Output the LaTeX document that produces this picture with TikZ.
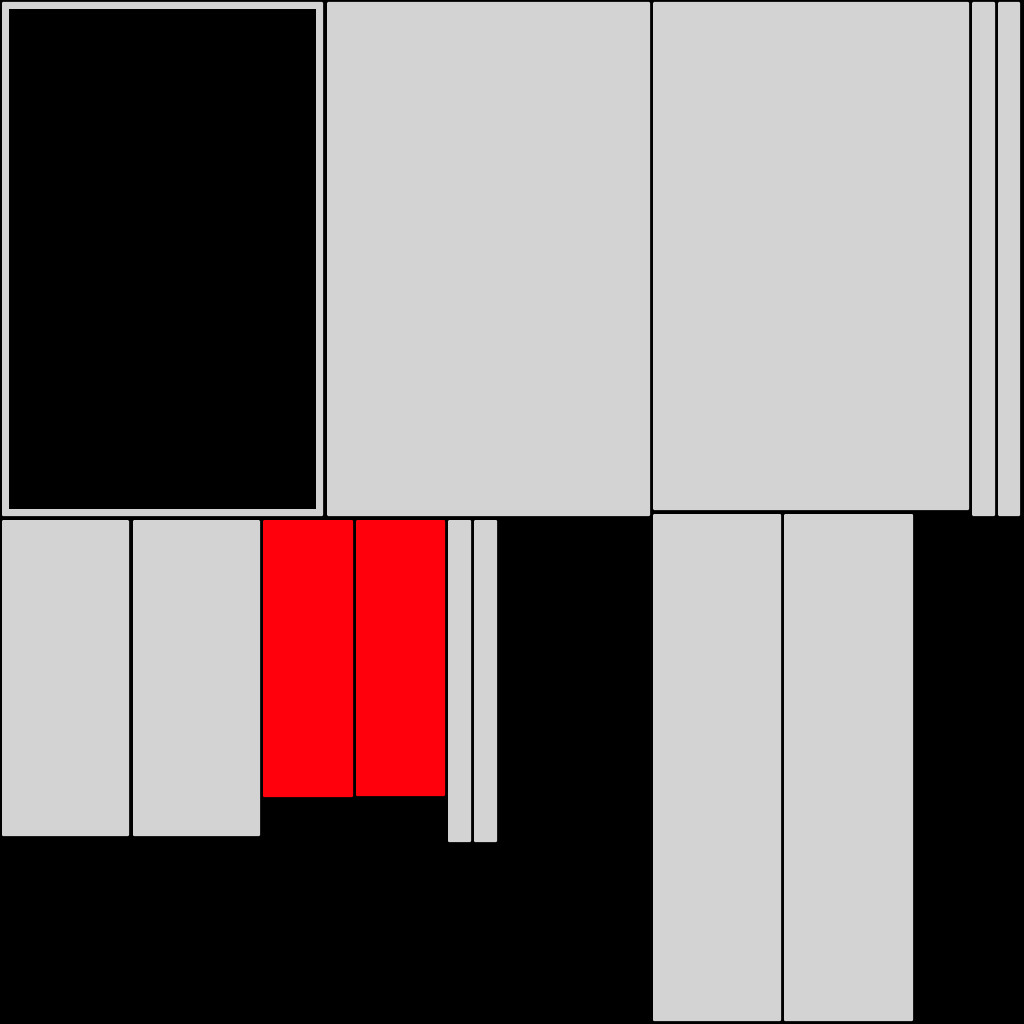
\documentclass[tikz,border=0pt]{standalone}
\begin{document}
\begin{tikzpicture}[x=1pt,y=-1pt,
  grey/.style={fill={rgb,255:red,211;green,211;blue,211},rounded corners=1pt},
  redbox/.style={fill={rgb,255:red,255;green,0;blue,12},rounded corners=1pt},
  hole/.style={fill=black}]
\fill[black] (0,0) rectangle (1024,1024);
\useasboundingbox (0,0) rectangle (1024,1024);
% top-left framed block
\fill[grey] (2,2) rectangle (323,516);
\fill[hole] (9,9) rectangle (316,509);
% top middle
\fill[grey] (327,2) rectangle (650,516);
% top right
\fill[grey] (653,2) rectangle (969,510);
\fill[grey] (972,2) rectangle (995,516);
\fill[grey] (998,2) rectangle (1020,516);
% lower left
\fill[grey] (2,520) rectangle (129,836);
\fill[grey] (133,520) rectangle (260,836);
% red
\fill[redbox] (263,520) rectangle (353,797);
\fill[redbox] (356,520) rectangle (445,796);
% thin bars
\fill[grey] (448,520) rectangle (471,842);
\fill[grey] (474,520) rectangle (497,842);
% lower right
\fill[grey] (653,514) rectangle (781,1021);
\fill[grey] (784,514) rectangle (913,1021);
\end{tikzpicture}
\end{document}
